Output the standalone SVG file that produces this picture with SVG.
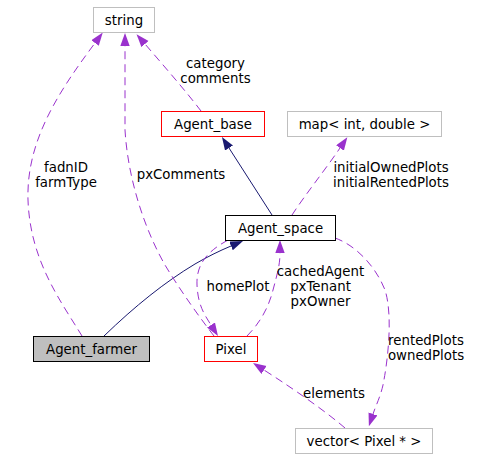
<svg xmlns="http://www.w3.org/2000/svg" width="488" height="459" viewBox="0 0 488 459">
<style>
  text { font-family: "DejaVu Sans", "Liberation Sans", sans-serif; font-size: 13.33px; fill: #000; text-anchor: middle; }
  .node rect { fill: #fff; stroke-width: 1; }
  .gray { stroke: #bfbfbf; }
  .red { stroke: #ff0000; }
  .black { stroke: #000; }
  .edge { fill: none; stroke-width: 1; }
  .use { stroke: #9a32cd; stroke-dasharray: 8,5; marker-end: url(#ap); }
  .inh { stroke: #191970; marker-end: url(#an); }
</style>
<defs>
  <marker id="ap" markerUnits="userSpaceOnUse" markerWidth="14" markerHeight="10" refX="0" refY="4.7" orient="auto">
    <path d="M0,0 L13,4.7 L0,9.4 z" fill="#9a32cd"/>
  </marker>
  <marker id="an" markerUnits="userSpaceOnUse" markerWidth="14" markerHeight="10" refX="0" refY="4.7" orient="auto">
    <path d="M0,0 L13,4.7 L0,9.4 z" fill="#191970"/>
  </marker>
</defs>
<rect width="488" height="459" fill="#fff"/>
<g id="connectors">
  <path class="edge inh" d="M272,215 L229,148"/>
  <path class="edge inh" d="M104,336 C135,306 165,282 195,264 C207,257 219,251 231,246"/>
  <path class="edge use" d="M201,111 C185,90 163,65 145,44"/>
  <path class="edge use" d="M82,336 C60,300 30,260 28,200 C26,140 60,90 95,43"/>
  <path class="edge use" d="M214,336 C200,318 180,290 165,265 C145,230 128,180 125,130 L125,46"/>
  <path class="edge use" d="M228,240 C210,250 196,262 197,285 C198,305 204,314 211,325"/>
  <path class="edge use" d="M247,336 C258,325 268,310 273,290 C277,275 280,265 280,253"/>
  <path class="edge use" d="M292,215 C305,195 325,170 340,148"/>
  <path class="edge use" d="M335,238 C355,245 375,265 385,290 C393,315 388,360 383,385 C380,398 376,405 373,414"/>
  <path class="edge use" d="M345,428 C330,415 300,393 264,370"/>
  <text x="215.5" y="68">category</text>
  <text x="215.5" y="83">comments</text>
  <text x="66" y="172">fadnID</text>
  <text x="66" y="187">farmType</text>
  <text x="181" y="179">pxComments</text>
  <text x="391" y="172">initialOwnedPlots</text>
  <text x="391" y="187">initialRentedPlots</text>
  <text x="238" y="291">homePlot</text>
  <text x="320.5" y="276">cachedAgent</text>
  <text x="320.5" y="291">pxTenant</text>
  <text x="320.5" y="306">pxOwner</text>
  <text x="426" y="345">rentedPlots</text>
  <text x="426" y="360">ownedPlots</text>
  <text x="334" y="398">elements</text>
</g>
<g id="node-string" class="node">
  <rect class="gray" x="93.5" y="7.5" width="61" height="25"/>
  <text x="124" y="24.5">string</text>
</g>
<g id="node-agent-base" class="node">
  <rect class="red" x="161.5" y="111.5" width="103" height="25"/>
  <text x="213" y="128.5">Agent_base</text>
</g>
<g id="node-map" class="node">
  <rect class="gray" x="287.5" y="111.5" width="154" height="25"/>
  <text x="364.5" y="128.5">map&lt; int, double &gt;</text>
</g>
<g id="node-agent-space" class="node">
  <rect class="black" x="225.5" y="215.5" width="110" height="25"/>
  <text x="280.5" y="232.5">Agent_space</text>
</g>
<g id="node-agent-farmer" class="node">
  <rect class="black" x="33.5" y="336.5" width="116" height="25" style="fill:#bfbfbf"/>
  <text x="91.5" y="353.5">Agent_farmer</text>
</g>
<g id="node-pixel" class="node">
  <rect class="red" x="204.5" y="336.5" width="53" height="25"/>
  <text x="231" y="353.5">Pixel</text>
</g>
<g id="node-vector" class="node">
  <rect class="gray" x="295.5" y="428.5" width="137" height="25"/>
  <text x="364" y="445.5">vector&lt; Pixel * &gt;</text>
</g>
</svg>
